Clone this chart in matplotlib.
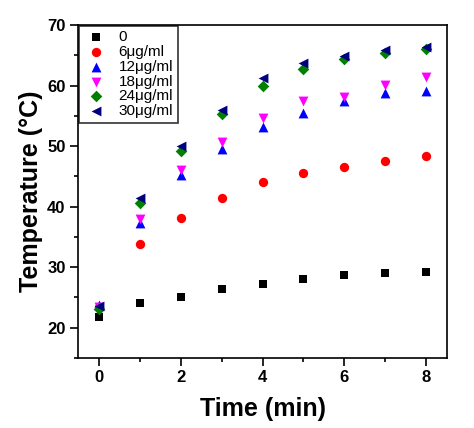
import matplotlib.pyplot as plt
from matplotlib.ticker import MultipleLocator

plt.rcParams['font.family'] = ['Liberation Sans', 'DejaVu Sans']

time = [0, 1, 2, 3, 4, 5, 6, 7, 8]
labels = ['0', '6\u03bcg/ml', '12\u03bcg/ml', '18\u03bcg/ml', '24\u03bcg/ml', '30\u03bcg/ml']
t_0 = [21.8, 24.1, 25.1, 26.4, 27.2, 28.0, 28.7, 29.1, 29.2]
t_6 = [23.5, 33.9, 38.2, 41.4, 44.1, 45.6, 46.5, 47.5, 48.3]
t_12 = [23.8, 37.3, 45.2, 49.5, 53.1, 55.4, 57.5, 58.7, 59.1]
t_18 = [23.5, 38.0, 46.1, 50.7, 54.6, 57.4, 58.1, 60.1, 61.4]
t_24 = [23.1, 40.6, 49.2, 55.3, 60.0, 62.8, 64.4, 65.3, 66.0]
t_30 = [23.6, 41.5, 50.0, 55.9, 61.3, 63.8, 64.8, 65.9, 66.3]

series = [t_0, t_6, t_12, t_18, t_24, t_30]
markers = ['s', 'o', '^', 'v', 'D', '<']
colors = ['black', 'red', 'blue', 'magenta', 'green', 'navy']
sizes = [40, 45, 50, 50, 35, 50]

fig = plt.figure(figsize=(4.74, 4.28), dpi=100)
ax = fig.add_axes([0.1646, 0.1636, 0.7784, 0.778])

for vals, m, c, s, lab in zip(series, markers, colors, sizes, labels):
    ax.scatter(time, vals, marker=m, color=c, s=s, label=lab, linewidths=0)

ax.set_xlim(-0.5, 8.5)
ax.set_ylim(15, 70)
ax.xaxis.set_major_locator(MultipleLocator(2))
ax.xaxis.set_minor_locator(MultipleLocator(1))
ax.yaxis.set_major_locator(MultipleLocator(10))
ax.yaxis.set_minor_locator(MultipleLocator(5))
ax.tick_params(which='both', direction='out', top=False, right=False, width=1.2)
ax.tick_params(which='major', length=6, labelsize=12, pad=3)
ax.tick_params(which='minor', length=3)
for lbl in ax.get_xticklabels() + ax.get_yticklabels():
    lbl.set_fontweight('bold')
for sp in ax.spines.values():
    sp.set_linewidth(1.2)

ax.set_xlabel('Time (min)', fontsize=18, fontweight='bold', labelpad=8)
ax.set_ylabel('Temperature (\u00b0C)', fontsize=18, fontweight='bold', labelpad=3)

leg = ax.legend(loc='upper left', fontsize=11, frameon=True, fancybox=False,
                borderaxespad=0.05, handletextpad=0.6, labelspacing=0.05,
                borderpad=0.3, handlelength=1.7)
leg.get_frame().set_edgecolor('black')
leg.get_frame().set_linewidth(1.2)

fig.savefig('out.png', dpi=100)
